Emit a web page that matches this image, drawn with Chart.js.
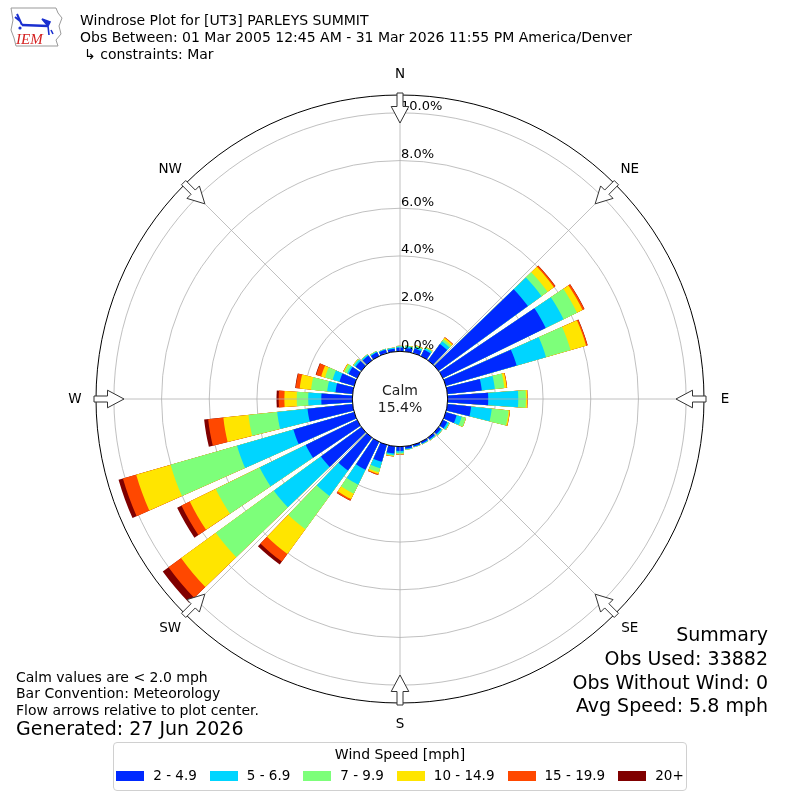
<!DOCTYPE html>
<html>
<head>
<meta charset="utf-8">
<title>Windrose Plot for [UT3] PARLEYS SUMMIT</title>
<script src="https://cdn.jsdelivr.net/npm/chart.js@4.4.1/dist/chart.umd.min.js"></script>
<style>
  body { margin: 0; background: #fff; font-family: "DejaVu Sans", sans-serif; color: #000; }
  #wrap { position: relative; width: 800px; height: 800px; overflow: hidden; }
  #rose { position: absolute; left: 0; top: 0; }
  .t { position: absolute; white-space: nowrap; line-height: 1; }
  .hdr { left: 80px; font-size: 14px; }
  .note { left: 16px; font-size: 14px; }
  .sum { right: 32px; font-size: 19px; text-align: right; }
  #legend { position: absolute; left: 113px; top: 742px; width: 572px; height: 47px;
            border: 1px solid #d0d0d0; border-radius: 4px; font-size: 14px; }
  #legend .ttl { position: absolute; left: 0; right: 0; top: 3px; text-align: center; }
  #legend .row { position: absolute; left: 0; right: 0; top: 26px; display: flex; font-size: 13.5px;
                 justify-content: center; gap: 13px; line-height: 1; }
  #legend .item { display: flex; align-items: center; white-space: nowrap; flex-shrink: 0; }
  #legend .sw { width: 28px; height: 10px; margin-right: 9px; flex-shrink: 0; }
  #logo { position: absolute; left: 8px; top: 4px; }
</style>
</head>
<body>
<div id="wrap">
  <canvas id="rose" width="800" height="800"></canvas>

  <svg id="logo" width="56" height="46" viewBox="0 0 56 46">
    <path d="M3 4 L48 4 L50 9 L54 14 L51 22 L53 30 L48 36 L50 42 L8 42 L6 34 L3 26 L5 16 Z"
          fill="#fff" stroke="#999" stroke-width="1"/>
    <path d="M14 21 L40 22" stroke="#1a2fd0" stroke-width="2.5"/>
    <path d="M14 21 L9 10 M12 17 L7 13" stroke="#1a2fd0" stroke-width="2"/>
    <path d="M34 15 L42 18 L40 22 Z M40 22 L41 31 M43 26 L45 30" stroke="#1a2fd0" stroke-width="1.6" fill="#1a2fd0"/>
    <circle cx="12" cy="24" r="1.6" fill="#1a2fd0"/>
    <text x="8" y="40" font-family="Liberation Serif, serif" font-style="italic" font-size="15" fill="#d42020">IEM</text>
  </svg>

  <div class="t hdr" style="top:13px">Windrose Plot for [UT3] PARLEYS SUMMIT</div>
  <div class="t hdr" style="top:30px">Obs Between: 01 Mar 2005 12:45 AM - 31 Mar 2026 11:55 PM America/Denver</div>
  <div class="t hdr" style="top:47px; left:84px">↳ constraints: Mar</div>

  <div class="t note" style="top:670px">Calm values are &lt; 2.0 mph</div>
  <div class="t note" style="top:686px">Bar Convention: Meteorology</div>
  <div class="t note" style="top:703px">Flow arrows relative to plot center.</div>
  <div class="t note" style="top:719px; font-size:19px">Generated: 27 Jun 2026</div>

  <div class="t sum" style="top:625px">Summary</div>
  <div class="t sum" style="top:649px">Obs Used: 33882</div>
  <div class="t sum" style="top:673px">Obs Without Wind: 0</div>
  <div class="t sum" style="top:696px">Avg Speed: 5.8 mph</div>

  <div id="legend">
    <div class="ttl">Wind Speed [mph]</div>
    <div class="row" id="legendRow"></div>
  </div>
</div>

<script>
// direction bins, degrees clockwise from north
const directions = [0, 10, 20, 30, 40, 50, 60, 70, 80, 90, 100, 110, 120, 130, 140, 150, 160, 170,
                    180, 190, 200, 210, 220, 230, 240, 250, 260, 270, 280, 290, 300, 310, 320, 330, 340, 350];

const speedBins = ['2 - 4.9', '5 - 6.9', '7 - 9.9', '10 - 14.9', '15 - 19.9', '20+'];
const binColors = ['#0029ff', '#00d5ff', '#7dff7a', '#ffe500', '#ff4800', '#800000'];

// percent of observations per direction, one array per speed bin
const mph2to5   = [0.15, 0.15, 0.20, 0.30, 0.85, 4.63, 4.80, 3.09, 1.45, 1.70, 1.00, 0.47, 0.20, 0.12, 0.10, 0.08, 0.08, 0.10,
                   0.18, 0.30, 0.74, 1.30, 1.71, 2.10, 2.40, 2.65, 1.90, 1.30, 0.72, 0.64, 0.40, 0.30, 0.25, 0.18, 0.15, 0.12];
const mph5to7   = [0.05, 0.07, 0.08, 0.08, 0.15, 0.71, 0.83, 1.28, 0.55, 1.26, 0.87, 0.22, 0.08, 0.06, 0.04, 0.03, 0.02, 0.03,
                   0.07, 0.06, 0.28, 0.70, 1.32, 2.44, 2.15, 2.46, 1.28, 0.55, 0.35, 0.30, 0.07, 0.08, 0.05, 0.04, 0.03, 0.04];
const mph7to10  = [0.02, 0.03, 0.04, 0.04, 0.10, 0.31, 0.63, 1.07, 0.40, 0.32, 0.71, 0.18, 0.03, 0.02, 0.01, 0.01, 0.01, 0.01,
                   0.05, 0.04, 0.18, 0.42, 1.72, 3.01, 2.05, 2.90, 1.21, 0.48, 0.68, 0.33, 0.13, 0.04, 0.02, 0.02, 0.01, 0.01];
const mph10to15 = [0.01, 0.01, 0.02, 0.02, 0.08, 0.33, 0.26, 0.68, 0.10, 0.06, 0.05, 0.01, 0.01, 0, 0, 0, 0, 0,
                   0.02, 0.02, 0.07, 0.25, 1.28, 1.80, 1.21, 1.50, 1.06, 0.52, 0.48, 0.17, 0.04, 0.01, 0, 0, 0, 0];
const mph15to20 = [0, 0, 0, 0, 0.02, 0.07, 0.08, 0.06, 0.02, 0.01, 0.01, 0, 0, 0, 0, 0, 0, 0,
                   0.01, 0.01, 0.04, 0.07, 0.40, 0.65, 0.39, 0.58, 0.64, 0.24, 0.17, 0.22, 0.01, 0, 0, 0, 0, 0];
const mph20up   = [0, 0, 0, 0, 0, 0.01, 0.01, 0.01, 0, 0, 0, 0, 0, 0, 0, 0, 0, 0,
                   0, 0, 0, 0.01, 0.15, 0.30, 0.20, 0.19, 0.17, 0.09, 0.02, 0.02, 0, 0, 0, 0, 0, 0];

const calmPct = 15.4;
const compass = ['N', 'NE', 'E', 'SE', 'S', 'SW', 'W', 'NW'];

const R_MIN = -2;      // room in the middle for the calm circle
const R_MAX = 10.75;
const BAR_DEG = 8;     // bar width, the rest of each 10 deg is gap
const GAP_DEG = 10 - BAR_DEG;

// stack the bins: dataset k is the running total up to bin k
const binSeries = [mph2to5, mph5to7, mph7to10, mph10to15, mph15to20, mph20up];
const running = directions.map(() => 0);
const datasets = binSeries.map((series, k) => {
    const vals = [];
    series.forEach((v, i) => {
        running[i] += v;
        vals.push(running[i]);
        vals.push(R_MIN); // gap slice
    });
    return {
        label: speedBins[k],
        data: vals,
        backgroundColor: binColors[k],
        borderWidth: 0,
        angle: (c) => (c.dataIndex % 2 === 0 ? BAR_DEG : GAP_DEG)
    };
});
const labels = [];
directions.forEach(d => { labels.push(d + '°'); labels.push(''); });

const FONT = '"DejaVu Sans", sans-serif';

const roseDecor = {
    id: 'roseDecor',
    afterDatasetsDraw(chart) {
        const s = chart.scales.r;
        const ctx = chart.ctx;
        ctx.save();
        ctx.beginPath();
        ctx.arc(s.xCenter, s.yCenter, s.getDistanceFromCenterForValue(0), 0, Math.PI * 2);
        ctx.fillStyle = '#fff';
        ctx.fill();
        ctx.restore();
    },
    afterDraw(chart) {
        const s = chart.scales.r;
        const ctx = chart.ctx;
        const cx = s.xCenter, cy = s.yCenter;
        const r0 = s.getDistanceFromCenterForValue(0);
        const rOut = s.getDistanceFromCenterForValue(R_MAX);
        const pt = (deg, rho, p) => {
            const a = deg * Math.PI / 180;
            return [cx + rho * Math.sin(a) + p * Math.cos(a), cy - rho * Math.cos(a) + p * Math.sin(a)];
        };
        ctx.save();

        // spokes every 45 deg
        ctx.strokeStyle = '#b0b0b0';
        ctx.lineWidth = 0.8;
        compass.forEach((c, k) => {
            const a = pt(k * 45, r0, 0), b = pt(k * 45, rOut, 0);
            ctx.beginPath();
            ctx.moveTo(a[0], a[1]);
            ctx.lineTo(b[0], b[1]);
            ctx.stroke();
        });

        // calm circle
        ctx.beginPath();
        ctx.arc(cx, cy, r0, 0, Math.PI * 2);
        ctx.strokeStyle = '#000';
        ctx.lineWidth = 1;
        ctx.stroke();
        ctx.fillStyle = '#222';
        ctx.font = '14px ' + FONT;
        ctx.textAlign = 'center';
        ctx.textBaseline = 'middle';
        ctx.fillText('Calm', cx, cy - 8);
        ctx.fillText(calmPct.toFixed(1) + '%', cx, cy + 9);

        // radial tick labels
        ctx.fillStyle = '#000';
        ctx.font = '13px ' + FONT;
        ctx.textAlign = 'left';
        ctx.textBaseline = 'alphabetic';
        s.ticks.forEach(t => {
            if (t.value < 0 || t.value > R_MAX - 0.5) return;
            const rr = s.getDistanceFromCenterForValue(t.value);
            ctx.fillText(t.value.toFixed(1) + '%', cx + 1, cy - rr - 2.5);
        });

        // hollow flow arrows and compass labels
        compass.forEach((c, k) => {
            const deg = k * 45;
            const tail = rOut + 2, neck = tail - 13.5, tip = tail - 30;
            const poly = [[tail, -3], [neck, -3], [neck, -8.8], [tip, 0], [neck, 8.8], [neck, 3], [tail, 3]];
            ctx.beginPath();
            poly.forEach((q, i) => {
                const p = pt(deg, q[0], q[1]);
                if (i === 0) ctx.moveTo(p[0], p[1]); else ctx.lineTo(p[0], p[1]);
            });
            ctx.closePath();
            ctx.fillStyle = '#fff';
            ctx.fill();
            ctx.strokeStyle = '#333';
            ctx.lineWidth = 1;
            ctx.stroke();

            const lp = pt(deg, rOut + 21, 0);
            ctx.fillStyle = '#000';
            ctx.font = '13.5px ' + FONT;
            ctx.textAlign = 'center';
            ctx.textBaseline = 'middle';
            ctx.fillText(c, lp[0], lp[1]);
        });
        ctx.restore();
    }
};

const chart = new Chart(document.getElementById('rose'), {
    type: 'polarArea',
    data: { labels: labels, datasets: datasets },
    options: {
        responsive: false,
        animation: false,
        events: [],
        layout: { padding: { top: 95, left: 96, right: 96, bottom: 97 } },
        plugins: { legend: { display: false }, tooltip: { enabled: false } },
        scales: {
            r: {
                min: R_MIN,
                max: R_MAX,
                startAngle: -BAR_DEG / 2,
                z: 1,
                ticks: { display: false, stepSize: 2 },
                grid: {
                    circular: true,
                    color: (c) => (c.tick && c.tick.value >= R_MAX ? '#000' : '#b0b0b0'),
                    lineWidth: (c) => (c.tick && c.tick.value >= R_MAX ? 1 : 0.8)
                },
                angleLines: { display: false },
                pointLabels: { display: false }
            }
        }
    },
    plugins: [roseDecor]
});

// legend built from the same bins and colours
const row = document.getElementById('legendRow');
speedBins.forEach((b, k) => {
    const it = document.createElement('div');
    it.className = 'item';
    const sw = document.createElement('span');
    sw.className = 'sw';
    sw.style.background = binColors[k];
    const tx = document.createElement('span');
    tx.textContent = b;
    it.appendChild(sw);
    it.appendChild(tx);
    row.appendChild(it);
});
</script>
</body>
</html>
